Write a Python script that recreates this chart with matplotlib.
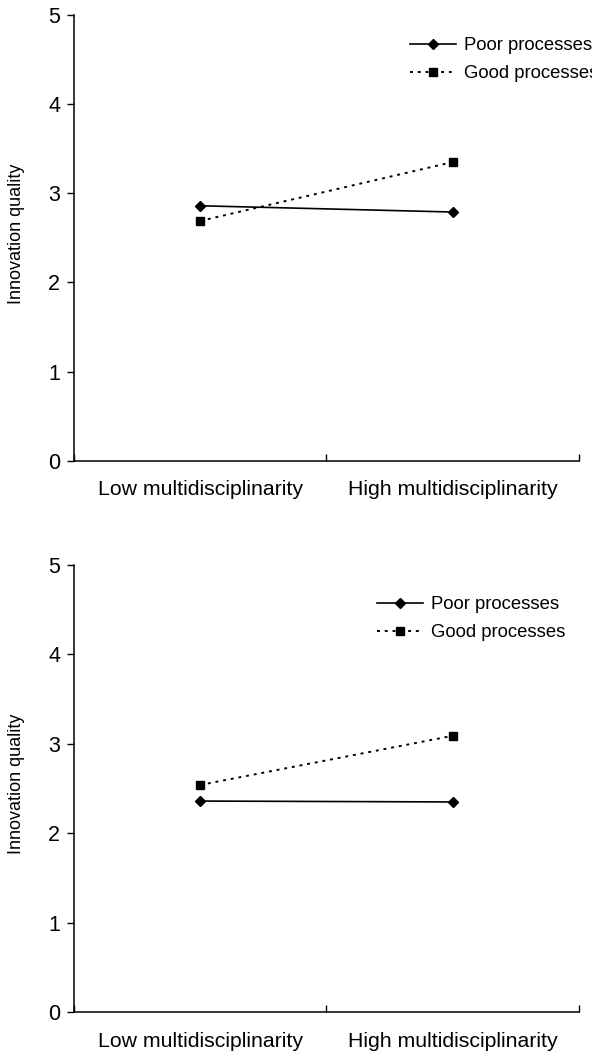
import matplotlib
matplotlib.use("Agg")
import matplotlib.pyplot as plt

plt.rcParams["font.family"] = ["Liberation Sans", "DejaVu Sans"]

CATEGORIES = ["Low multidisciplinarity", "High multidisciplinarity"]
SERIES = ["Poor processes", "Good processes"]

# top panel
TOP_POOR = [2.86, 2.79]
TOP_GOOD = [2.69, 3.35]
# bottom panel
BOT_POOR = [2.36, 2.35]
BOT_GOOD = [2.54, 3.09]

Y_TICKS = [0, 1, 2, 3, 4, 5]


def draw_panel(ax, poor, good, legend_anchor):
    xs = [0.5, 1.5]
    ax.plot(xs, poor, color="black", linestyle="-", linewidth=1.2,
            marker="D", markersize=5.5, label=SERIES[0])
    ax.plot(xs, good, color="black", linestyle=(0, (1.5, 2.5)), linewidth=1.4,
            marker="s", markersize=6, label=SERIES[1])

    ax.set_xlim(0, 2)
    ax.set_ylim(0, 5)
    ax.set_yticks(Y_TICKS)
    ax.set_xticks([0, 1, 2])
    ax.set_xticklabels([])
    ax.set_xticks(xs, minor=True)
    ax.set_xticklabels(CATEGORIES, minor=True)
    ax.tick_params(axis="x", which="minor", length=0, pad=14, labelsize=15.3)
    ax.tick_params(axis="x", which="major", length=5, width=1, direction="in")
    ax.tick_params(axis="y", length=5, width=1, direction="out", pad=5, labelsize=15.5)
    for side in ("top", "right"):
        ax.spines[side].set_visible(False)
    for side in ("left", "bottom"):
        ax.spines[side].set_linewidth(1.1)
    ax.set_ylabel("Innovation quality", fontsize=13)
    ax.yaxis.set_label_coords(-0.098, 0.51)

    ax.legend(loc="upper left", bbox_to_anchor=legend_anchor, frameon=False,
              fontsize=13.3, handlelength=2.5, handletextpad=0.45,
              borderpad=0, borderaxespad=0, labelspacing=0.6, numpoints=1)


fig = plt.figure(figsize=(5.92, 10.62), dpi=100)
ax_top = fig.add_axes([0.125, 0.566, 0.853, 0.420])
ax_bot = fig.add_axes([0.125, 0.047, 0.853, 0.421])

draw_panel(ax_top, TOP_POOR, TOP_GOOD, (0.665, 0.950))
draw_panel(ax_bot, BOT_POOR, BOT_GOOD, (0.60, 0.930))

fig.savefig("out.png", dpi=100)
